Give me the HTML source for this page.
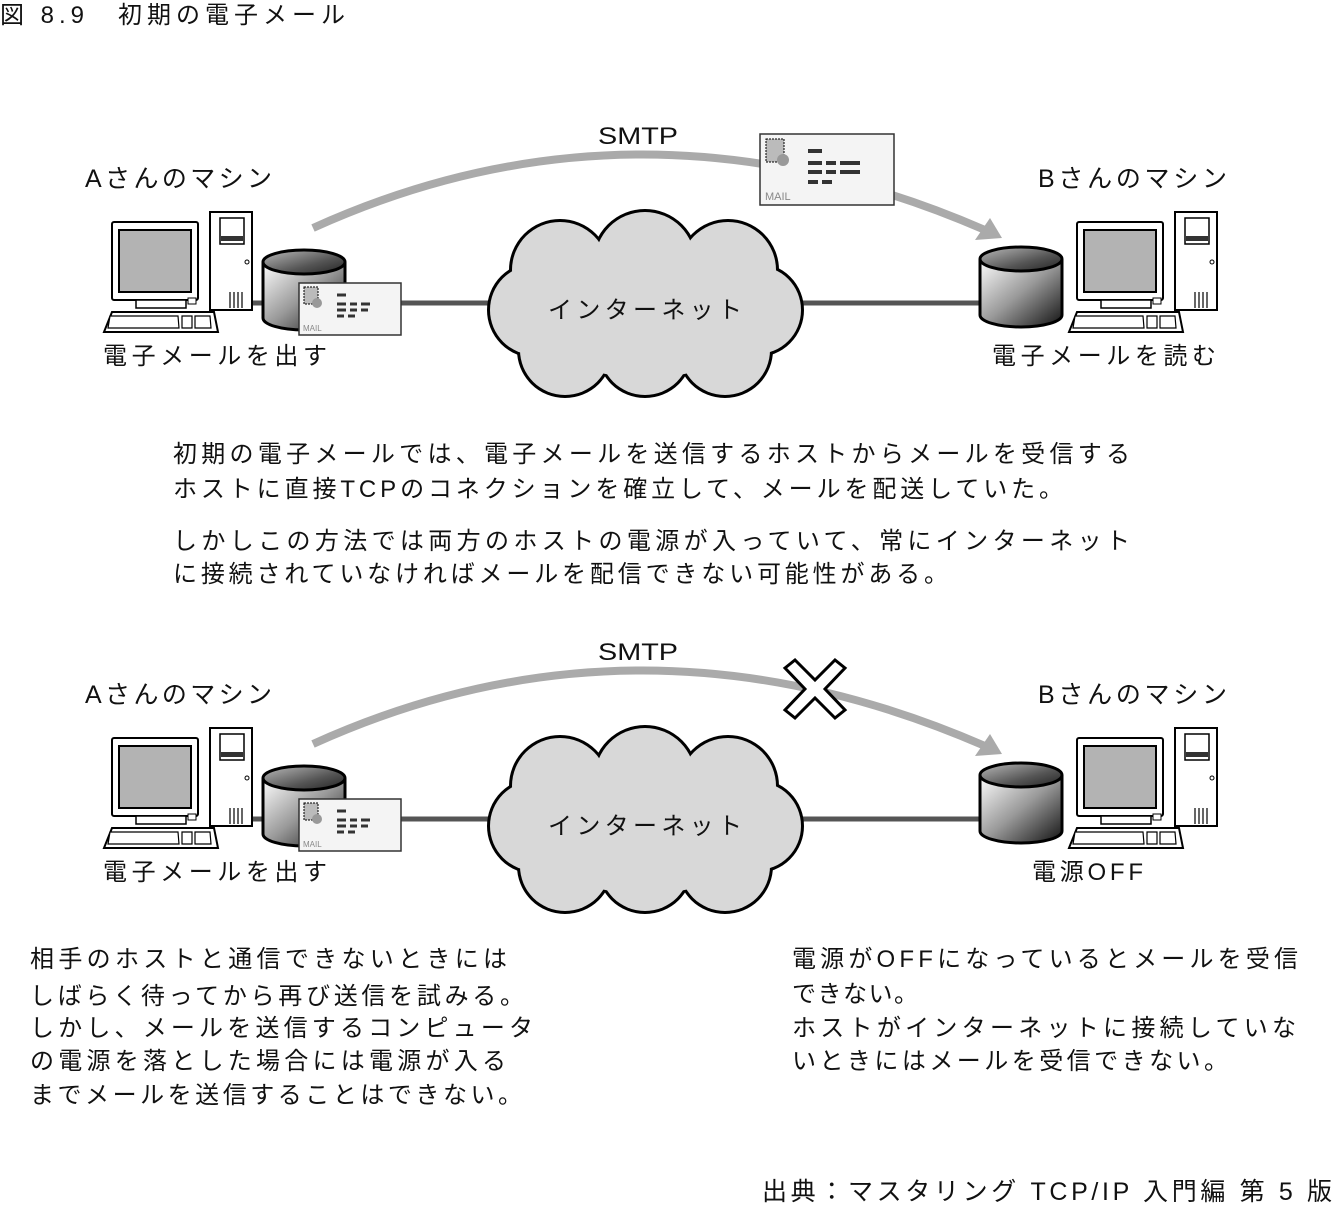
<!DOCTYPE html>
<html><head><meta charset="utf-8"><style>
html,body{margin:0;padding:0;background:#fff;}
svg{display:block;}
text{font-family:"Liberation Sans","Noto Sans CJK JP",sans-serif;fill:#111;}
</style></head><body>
<svg width="1332" height="1205" viewBox="0 0 1332 1205" xmlns="http://www.w3.org/2000/svg">
<defs>
<linearGradient id="cyl" x1="0" x2="1" y1="0" y2="1">
<stop offset="0" stop-color="#fff"/><stop offset="0.5" stop-color="#999"/><stop offset="1" stop-color="#111"/>
</linearGradient>
<linearGradient id="cyltop" x1="0" x2="1" y1="0" y2="1">
<stop offset="0" stop-color="#bbb"/><stop offset="0.6" stop-color="#555"/><stop offset="1" stop-color="#222"/>
</linearGradient>
<g id="pc">
<rect x="106" y="0" width="42" height="98" fill="#fff" stroke="#000" stroke-width="2"/>
<rect x="116" y="6" width="24" height="26" fill="#fff" stroke="#000" stroke-width="1.5"/>
<rect x="117" y="24" width="22" height="5" fill="#333"/>
<circle cx="143" cy="50" r="2" fill="none" stroke="#000"/>
<path d="M126 80v16M130 80v16M134 80v16M138 80v16" stroke="#000" stroke-width="1.2"/>
<rect x="8" y="10" width="86" height="78" rx="2" fill="#fff" stroke="#000" stroke-width="2"/>
<rect x="15" y="18" width="72" height="62" fill="#b3b3b3" stroke="#000" stroke-width="2"/>
<rect x="32" y="88" width="50" height="8" fill="#fff" stroke="#000" stroke-width="1.5"/>
<rect x="84" y="86" width="8" height="6" fill="#fff" stroke="#000"/>
<path d="M8 100 L110 100 L114 120 L0 120 Z" fill="#fff" stroke="#000" stroke-width="2"/>
<path d="M6 104 L74 104 L75 116 L4 116 Z M78 104h10v12h-10z M91 104h15l1 12h-16z" fill="#fff" stroke="#000" stroke-width="1.2"/>
</g>
<g id="cy">
<path d="M0 12 V68 A41 12 0 0 0 82 68 V12" fill="url(#cyl)" stroke="#000" stroke-width="3"/>
<ellipse cx="41" cy="12" rx="41" ry="12" fill="url(#cyltop)" stroke="#000" stroke-width="3"/>
</g>
<g id="mail">
<rect x="0" y="0" width="102" height="52" fill="#f4f4f4" stroke="#333" stroke-width="1.5"/>
<rect x="5" y="4" width="14" height="17" fill="#bbb" stroke="#000" stroke-dasharray="2 1"/>
<circle cx="18" cy="20" r="5" fill="#999"/>
<path d="M38 12h9M38 21h9M51 21h7M62 21h9M38 27h9M51 27h7M62 27h7M38 33h7M49 33h7" stroke="#333" stroke-width="3"/>
<text x="4" y="48" font-size="8" style="fill:#888">MAIL</text>
</g>
<g id="mailbig">
<rect x="0" y="0" width="134" height="71" fill="#f4f4f4" stroke="#333" stroke-width="1.5"/>
<rect x="6" y="5" width="18" height="23" fill="#bbb" stroke="#000" stroke-dasharray="2 1"/>
<circle cx="23" cy="26" r="6" fill="#999"/>
<path d="M48 17h14M48 29h14M66 29h10M80 29h20M48 38h14M66 38h10M80 38h20M48 48h10M62 48h10" stroke="#333" stroke-width="4"/>
<text x="5" y="66" font-size="11" style="fill:#888">MAIL</text>
</g>
<g id="cloud">
<g fill="#d8d8d8" stroke="#000" stroke-width="6">
<circle cx="560" cy="270" r="48"/><circle cx="645" cy="262" r="50"/><circle cx="728" cy="270" r="48"/>
<circle cx="535" cy="310" r="45"/><circle cx="757" cy="310" r="44"/>
<circle cx="565" cy="350" r="45"/><circle cx="645" cy="350" r="45"/><circle cx="725" cy="350" r="45"/>
</g>
<g fill="#d8d8d8">
<circle cx="560" cy="270" r="48"/><circle cx="645" cy="262" r="50"/><circle cx="728" cy="270" r="48"/>
<circle cx="535" cy="310" r="45"/><circle cx="757" cy="310" r="44"/>
<circle cx="565" cy="350" r="45"/><circle cx="645" cy="350" r="45"/><circle cx="725" cy="350" r="45"/>
<ellipse cx="645" cy="308" rx="120" ry="70"/>
</g>
</g>
</defs>

<text x="0" y="23" font-size="24" textLength="345" lengthAdjust="spacing">図 8.9　初期の電子メール</text>

<g>
<line x1="250" y1="303" x2="985" y2="303" stroke="#555" stroke-width="5"/>
<use href="#cloud"/>
<text x="548" y="318" font-size="24" textLength="194" lengthAdjust="spacing">インターネット</text>
<path d="M313 228 Q640 80 985 230" fill="none" stroke="#aaa" stroke-width="8"/>
<path d="M1002 238 L975 240 L990 218 Z" fill="#aaa"/>
<use href="#pc" x="104" y="212"/>
<use href="#cy" x="263" y="250"/>
<use href="#mail" x="299" y="283"/>
<use href="#mailbig" x="760" y="134"/>
<use href="#cy" x="980" y="247"/>
<use href="#pc" x="1069" y="212"/>
<text x="598" y="144" font-size="24" textLength="80" lengthAdjust="spacingAndGlyphs">SMTP</text>
<text x="85" y="187" font-size="25" textLength="187" lengthAdjust="spacing">Aさんのマシン</text>
<text x="1038" y="187" font-size="25" textLength="189" lengthAdjust="spacing">Bさんのマシン</text>
<text x="103" y="364" font-size="24" textLength="224" lengthAdjust="spacing">電子メールを出す</text>
<text x="992" y="364" font-size="24" textLength="224" lengthAdjust="spacing">電子メールを読む</text>
</g>

<text x="173" y="462" font-size="24" textLength="957" lengthAdjust="spacing">初期の電子メールでは、電子メールを送信するホストからメールを受信する</text>
<text x="173" y="497" font-size="24" textLength="890" lengthAdjust="spacing">ホストに直接TCPのコネクションを確立して、メールを配送していた。</text>
<text x="173" y="549" font-size="24" textLength="957" lengthAdjust="spacing">しかしこの方法では両方のホストの電源が入っていて、常にインターネット</text>
<text x="173" y="582" font-size="24" textLength="775" lengthAdjust="spacing">に接続されていなければメールを配信できない可能性がある。</text>

<g transform="translate(0,516)">
<line x1="250" y1="303" x2="985" y2="303" stroke="#555" stroke-width="5"/>
<use href="#cloud"/>
<text x="548" y="318" font-size="24" textLength="194" lengthAdjust="spacing">インターネット</text>
<path d="M313 228 Q640 80 985 230" fill="none" stroke="#aaa" stroke-width="8"/>
<path d="M1002 238 L975 240 L990 218 Z" fill="#aaa"/>
<use href="#pc" x="104" y="212"/>
<use href="#cy" x="263" y="250"/>
<use href="#mail" x="299" y="283"/>
<use href="#cy" x="980" y="247"/>
<use href="#pc" x="1069" y="212"/>
<path d="M785 152 L795 144 L815 164 L835 144 L845 152 L825 173 L845 194 L835 202 L815 182 L795 202 L785 194 L805 173 Z" fill="#fff" stroke="#000" stroke-width="3" stroke-linejoin="miter"/>
<text x="598" y="144" font-size="24" textLength="80" lengthAdjust="spacingAndGlyphs">SMTP</text>
<text x="85" y="187" font-size="25" textLength="187" lengthAdjust="spacing">Aさんのマシン</text>
<text x="1038" y="187" font-size="25" textLength="189" lengthAdjust="spacing">Bさんのマシン</text>
<text x="103" y="364" font-size="24" textLength="224" lengthAdjust="spacing">電子メールを出す</text>
<text x="1032" y="364" font-size="24" textLength="111" lengthAdjust="spacing">電源OFF</text>
</g>

<text x="30" y="967" font-size="24" textLength="477" lengthAdjust="spacing">相手のホストと通信できないときには</text>
<text x="30" y="1004" font-size="24" textLength="494" lengthAdjust="spacing">しばらく待ってから再び送信を試みる。</text>
<text x="30" y="1036" font-size="24" textLength="503" lengthAdjust="spacing">しかし、メールを送信するコンピュータ</text>
<text x="30" y="1069" font-size="24" textLength="476" lengthAdjust="spacing">の電源を落とした場合には電源が入る</text>
<text x="30" y="1103" font-size="24" textLength="492" lengthAdjust="spacing">までメールを送信することはできない。</text>
<text x="792" y="967" font-size="24" textLength="506" lengthAdjust="spacing">電源がOFFになっているとメールを受信</text>
<text x="792" y="1002" font-size="24" textLength="126" lengthAdjust="spacing">できない。</text>
<text x="792" y="1036" font-size="24" textLength="504" lengthAdjust="spacing">ホストがインターネットに接続していな</text>
<text x="792" y="1069" font-size="24" textLength="436" lengthAdjust="spacing">いときにはメールを受信できない。</text>

<text x="762" y="1200" font-size="25" textLength="570" lengthAdjust="spacing">出典：マスタリング TCP/IP 入門編 第 5 版</text>
</svg>
</body></html>
